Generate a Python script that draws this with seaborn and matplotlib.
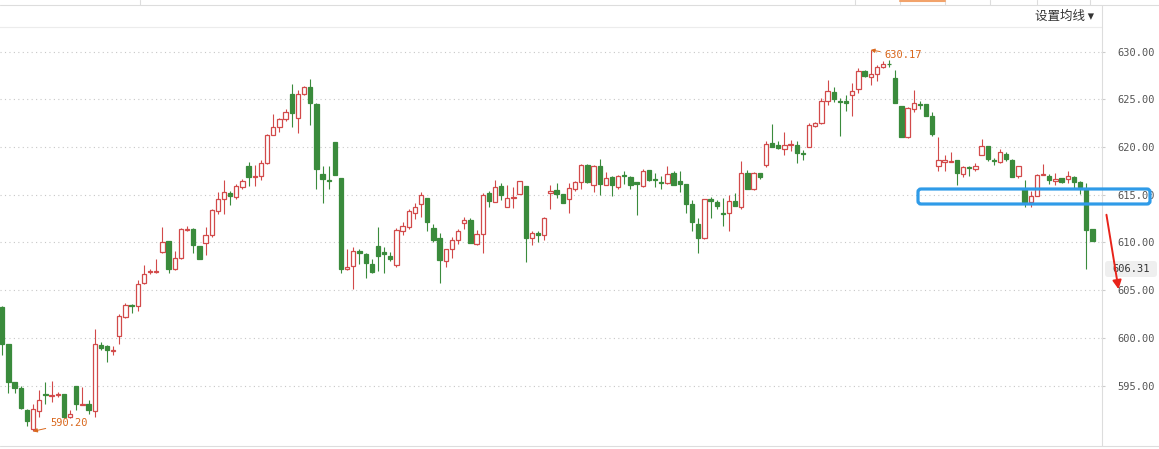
import numpy as np
import pandas as pd
import seaborn as sns
import matplotlib
matplotlib.use("Agg")
import matplotlib.pyplot as plt
from matplotlib.patches import FancyBboxPatch, FancyArrowPatch
from matplotlib.lines import Line2D
from matplotlib.transforms import IdentityTransform

# daily candles (oldest first)
opens = [
    603.2, 599.3, 595.4, 594.7, 592.4, 590.4, 592.3, 594.15, 593.95, 594.05,
    594.1, 591.7, 594.95, 593.0, 593.1, 592.3, 599.2, 599.1, 598.6, 600.2,
    602.2, 603.45, 603.3, 605.7, 606.9, 606.95, 609.0, 610.1, 607.2, 608.4,
    611.3, 611.4, 609.6, 609.9, 610.8, 613.3, 614.5, 615.15, 614.8, 615.8,
    618.0, 616.9, 617.0, 618.3, 621.3, 622.1, 622.9, 625.6, 623.0, 625.55,
    626.25, 624.5, 617.2, 616.55, 620.5, 616.75, 607.2, 607.5, 609.05, 608.8,
    607.7, 609.6, 608.95, 608.6, 607.6, 611.2, 611.65, 613.1, 614.0, 614.65,
    611.5, 610.5, 608.0, 609.3, 610.3, 612.0, 612.35, 609.8, 610.9, 615.15,
    614.2, 615.9, 613.75, 614.65, 615.1, 615.9, 610.5, 610.95, 610.75, 615.2,
    615.5, 615.1, 614.6, 615.6, 616.3, 618.1, 616.05, 618.0, 616.05, 616.9,
    615.85, 617.05, 616.9, 616.3, 615.9, 617.6, 616.65, 616.35, 616.2, 617.3,
    616.4, 616.1, 614.0, 611.9, 610.5, 614.6, 614.25, 613.1, 613.05, 614.3,
    613.75, 617.25, 615.55, 617.25, 618.1, 620.4, 620.2, 619.76, 620.2, 620.2,
    619.35, 620.0, 622.2, 622.5, 624.85, 625.8, 624.85, 624.8, 625.5, 626.1,
    628.0, 627.3, 627.65, 628.4, 628.75, 627.2, 624.3, 621.0, 624.0, 624.55,
    624.5, 623.25, 618.0, 618.4, 618.45, 618.6, 617.2, 617.95, 617.66, 619.2,
    620.1, 618.65, 618.4, 619.3, 618.65, 617.0, 615.6, 614.2, 614.9, 617.05,
    617.0, 616.4, 616.7, 616.6, 616.9, 616.35, 615.6, 611.4,
]
highs = [
    603.3, 599.4, 595.4, 594.9, 592.5, 593.1, 594.5, 595.4, 595.5, 594.3,
    594.1, 592.4, 595.0, 594.8, 593.5, 600.9, 599.6, 599.2, 599.1, 602.5,
    603.7, 603.5, 606.05, 607.6, 607.2, 608.3, 611.6, 610.15, 609.1, 611.5,
    611.7, 611.5, 609.6, 611.6, 613.5, 615.3, 616.5, 615.4, 616.1, 616.6,
    618.4, 618.1, 618.6, 621.35, 623.5, 623.0, 624.0, 626.6, 626.0, 626.4,
    627.1, 624.6, 618.0, 618.0, 620.5, 616.8, 609.3, 609.5, 609.35, 608.9,
    608.3, 611.6, 609.5, 609.0, 611.5, 612.1, 613.5, 614.1, 615.3, 614.7,
    611.9, 610.95, 609.35, 610.6, 611.4, 612.7, 612.6, 611.3, 615.2, 615.35,
    616.5, 616.2, 616.0, 615.8, 616.45, 615.9, 611.2, 611.2, 612.65, 616.05,
    616.2, 615.1, 616.2, 616.4, 618.2, 618.2, 618.15, 618.7, 617.4, 617.0,
    617.1, 617.5, 617.0, 616.35, 617.7, 617.6, 617.3, 617.0, 618.0, 617.45,
    617.45, 616.1, 614.45, 612.6, 614.55, 614.75, 614.45, 614.65, 615.0, 615.15,
    618.5, 617.6, 617.4, 617.3, 620.6, 622.4, 620.6, 621.6, 620.75, 620.6,
    619.7, 622.5, 622.6, 625.1, 627.0, 626.3, 625.1, 625.5, 626.7, 628.3,
    628.05, 630.17, 628.6, 629.0, 629.1, 628.1, 624.35, 624.2, 626.0, 624.85,
    624.55, 623.7, 621.0, 619.2, 619.5, 618.6, 618.0, 618.0, 618.35, 620.85,
    620.15, 618.8, 619.8, 619.5, 618.7, 618.05, 616.55, 615.4, 617.15, 618.2,
    617.15, 617.3, 616.8, 617.5, 617.0, 616.4, 616.25, 611.45,
]
lows = [
    598.2, 594.2, 594.2, 592.5, 590.8, 590.2, 591.7, 593.1, 593.3, 593.8,
    591.6, 591.6, 592.4, 593.0, 592.0, 591.7, 598.7, 597.5, 598.2, 599.4,
    602.1, 602.6, 602.8, 605.6, 606.7, 606.8, 608.9, 606.8, 607.1, 608.3,
    611.2, 608.9, 608.3, 608.7, 610.6, 613.0, 613.0, 613.95, 614.6, 615.65,
    615.9, 615.9, 616.5, 618.2, 621.25, 621.6, 622.7, 622.1, 621.5, 625.5,
    622.3, 615.6, 614.1, 615.6, 617.1, 606.8, 607.1, 605.15, 607.7, 606.3,
    606.8, 607.0, 606.75, 608.1, 607.4, 610.8, 611.4, 612.5, 612.7, 611.2,
    610.0, 605.7, 607.4, 608.4, 609.8, 611.4, 609.9, 609.7, 608.9, 613.7,
    614.2, 614.4, 613.7, 613.6, 615.05, 607.9, 609.7, 610.05, 610.25, 613.5,
    614.7, 614.1, 613.1, 615.35, 615.6, 616.2, 615.3, 615.0, 616.0, 614.9,
    615.6, 616.1, 615.6, 612.9, 615.85, 616.45, 615.85, 615.6, 616.15, 616.0,
    615.3, 613.05, 611.2, 608.9, 610.4, 612.6, 613.5, 611.7, 611.2, 613.8,
    613.5, 615.6, 615.5, 616.6, 617.95, 619.95, 619.75, 619.13, 619.55, 618.3,
    618.6, 619.95, 622.1, 622.4, 624.4, 624.7, 621.15, 623.8, 623.3, 625.7,
    627.35, 626.45, 626.9, 628.3, 628.4, 624.6, 621.1, 620.95, 623.7, 623.95,
    623.3, 621.2, 617.5, 617.45, 618.45, 616.05, 616.9, 617.0, 617.5, 619.15,
    618.5, 618.1, 618.35, 618.5, 616.85, 616.7, 613.75, 613.75, 614.85, 617.05,
    616.1, 616.05, 616.25, 616.2, 615.6, 615.1, 607.2, 610.2,
]
closes = [
    599.4, 595.4, 594.7, 592.6, 591.3, 592.5, 593.5, 594.05, 594.05, 594.15,
    591.7, 592.0, 593.1, 593.1, 592.4, 599.35, 598.9, 598.7, 598.7, 602.25,
    603.4, 603.35, 605.6, 606.7, 607.0, 607.05, 610.0, 607.2, 608.4, 611.4,
    611.4, 609.7, 608.3, 610.75, 613.4, 614.5, 615.3, 614.85, 615.9, 616.4,
    616.9, 617.0, 618.3, 621.3, 622.1, 622.9, 623.7, 623.6, 625.6, 626.25,
    624.6, 617.7, 616.6, 616.4, 617.1, 607.25, 607.45, 609.1, 608.85, 607.8,
    606.95, 608.6, 608.75, 608.3, 611.3, 611.7, 613.25, 613.75, 615.0, 612.15,
    610.25, 608.2, 609.3, 610.3, 611.2, 612.35, 609.9, 610.9, 615.0, 614.3,
    615.8, 615.0, 614.7, 614.75, 616.4, 610.5, 610.95, 610.75, 612.6, 615.4,
    615.1, 614.1, 615.7, 616.3, 618.1, 616.3, 618.0, 616.1, 616.8, 616.05,
    617.0, 616.95, 616.0, 616.1, 617.5, 616.5, 616.55, 616.25, 617.2, 616.05,
    616.1, 614.0, 612.1, 610.5, 614.5, 614.3, 613.8, 613.0, 614.3, 613.8,
    617.25, 615.6, 617.25, 616.9, 620.3, 620.0, 619.9, 620.18, 620.3, 619.4,
    619.25, 622.3, 622.5, 624.85, 625.9, 625.05, 624.75, 624.6, 625.9, 628.0,
    627.4, 627.65, 628.35, 628.7, 628.65, 624.6, 621.1, 624.1, 624.6, 624.45,
    623.3, 621.4, 618.6, 618.6, 618.55, 617.3, 617.9, 617.85, 618.0, 620.1,
    618.7, 618.55, 619.5, 618.7, 616.9, 618.0, 614.2, 614.9, 617.1, 617.15,
    616.5, 616.6, 616.35, 617.0, 616.35, 615.8, 611.3, 610.2,
]
price_ticks = [595, 600, 605, 610, 615, 620, 625, 630]
high_label = "630.17"
low_label = "590.20"
last_label = "606.31"
menu_label = "设置均线 ▾"

df = pd.DataFrame({"open": opens, "high": highs, "low": lows, "close": closes})
df["idx"] = np.arange(len(df))
df["up"] = df["close"] >= df["open"]

RED = "#d24a4a"
GREEN = "#3a8b3c"
ORANGE = "#d9671c"

sns.set_style("white")
plt.rcParams["font.family"] = ["Noto Sans CJK SC", "DejaVu Sans"]

W, H = 1159, 449
fig = plt.figure(figsize=(W / 100, H / 100), dpi=100)
ax = fig.add_axes([0, 3 / H, 1101 / W, (446 - 27) / H])

ax.set_xlim(-0.373, 178.4)
ax.set_ylim(588.66, 632.58)

# candles
line_col = np.where(df["up"], RED, GREEN)
face_col = np.where(df["up"], "white", GREEN)
ax.vlines(df["idx"], df["low"], df["high"], colors=line_col, lw=0.8, zorder=2)
body_lo = np.minimum(df["open"], df["close"])
body_h = np.maximum((df["close"] - df["open"]).abs(), 0.03)
ax.bar(df["idx"], body_h, bottom=body_lo, width=0.7, color=face_col,
       edgecolor=line_col, linewidth=0.9, zorder=3)

# axis styling
ax.set_xticks([])
ax.yaxis.tick_right()
ax.set_yticks(price_ticks)
ax.set_yticklabels([f"{v:.2f}" for v in price_ticks], fontfamily="DejaVu Sans Mono")
ax.tick_params(axis="y", length=3, color="#cccccc", pad=9, labelsize=7.5,
               labelcolor="#555555")
ax.grid(axis="y", ls=(0, (1, 3)), color="#c8c8c8", lw=0.8)
for side in ["left", "right", "bottom"]:
    ax.spines[side].set_visible(False)
ax.spines["top"].set_color("#ececec")
ax.spines["top"].set_linewidth(0.8)

# high / low markers
ax.annotate(high_label, xy=(141, 630.17), xytext=(143.3, 629.6), color=ORANGE,
            fontsize=7.5, fontfamily="DejaVu Sans Mono", ha="left", va="center",
            arrowprops=dict(arrowstyle="-|>", color=ORANGE, lw=0.7,
                            mutation_scale=6, shrinkA=1, shrinkB=0))
ax.annotate(low_label, xy=(5, 590.2), xytext=(7.8, 591.05), color=ORANGE,
            fontsize=7.5, fontfamily="DejaVu Sans Mono", ha="left", va="center",
            arrowprops=dict(arrowstyle="-|>", color=ORANGE, lw=0.7,
                            mutation_scale=6, shrinkA=1, shrinkB=0))

# frame lines of the page around the chart
px = IdentityTransform()
fig.add_artist(Line2D([0, W], [H - 4.5, H - 4.5], color="#dddddd", lw=0.8, transform=px))
for xs in [140, 855, 900, 945, 990, 1037, 1090]:
    fig.add_artist(Line2D([xs, xs], [H - 4.5, H], color="#dddddd", lw=0.8, transform=px))
fig.add_artist(Line2D([900, 945], [H - 0.8, H - 0.8], color="#f2a36b", lw=1.5, transform=px))
fig.add_artist(Line2D([1101.5, 1101.5], [3, H - 4.5], color="#dddddd", lw=0.8, transform=px))
fig.add_artist(Line2D([0, W], [3, 3], color="#dddddd", lw=0.8, transform=px))

fig.text(1035 / W, 1 - 16 / H, menu_label, fontsize=9, ha="left", va="center",
         color="#333333")

# last price tag on the axis
tag = FancyBboxPatch((1105, H - 277), 52, 16, boxstyle="round,pad=0,rounding_size=3",
                     facecolor="#efefef", edgecolor="none", transform=px, zorder=4)
fig.add_artist(tag)
fig.text(1131 / W, 1 - 269 / H, last_label, fontsize=7.5, fontfamily="DejaVu Sans Mono",
         ha="center", va="center", color="#333333", zorder=5)

# hand drawn highlights
box = FancyBboxPatch((918, H - 204), 232, 15, boxstyle="round,pad=0,rounding_size=3",
                     facecolor="none", edgecolor="#2f9be8", lw=2.3, transform=px, zorder=6)
fig.add_artist(box)
arrow = FancyArrowPatch((1106, H - 212), (1119, H - 292), arrowstyle="-|>",
                        mutation_scale=13, color="#e8231a", lw=1.4,
                        transform=px, zorder=7)
fig.add_artist(arrow)

fig.savefig("out.png", dpi=100)
